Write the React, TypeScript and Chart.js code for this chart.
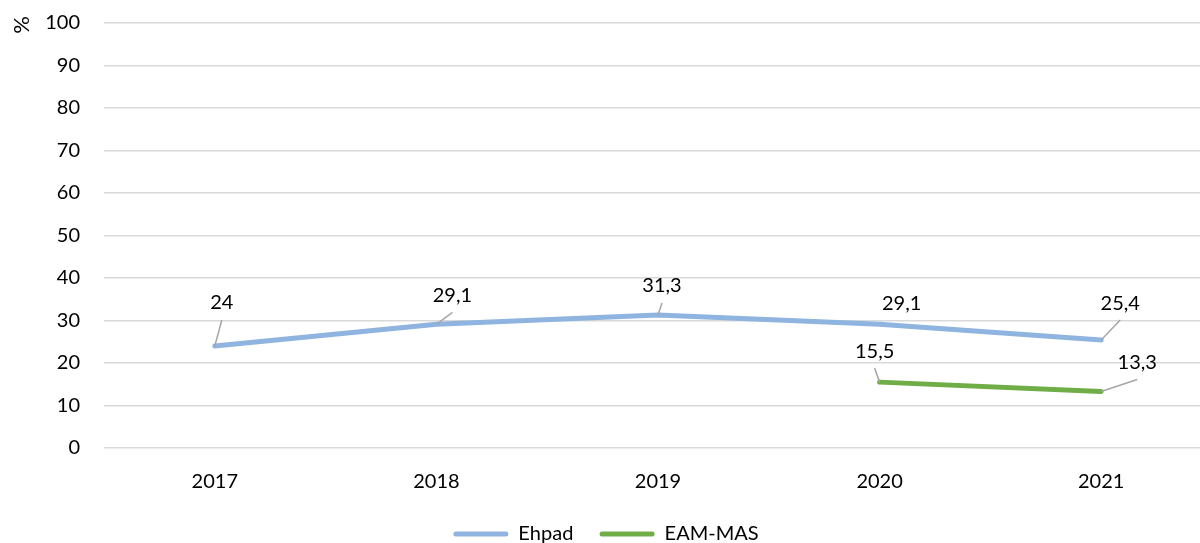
import React, { useEffect, useRef } from "react";
import { Chart, registerables } from "chart.js";

Chart.register(...registerables);

const years = ["2017", "2018", "2019", "2020", "2021"];
const ehpad = [24, 29.1, 31.3, 29.1, 25.4];
const eamMas = [null, null, null, 15.5, 13.3];
const seriesNames = ["Ehpad", "EAM-MAS"];
const yTicks = [0, 10, 20, 30, 40, 50, 60, 70, 80, 90, 100];
const yUnit = "%";

// label placement (offsets from the point, in px) and whether a leader line is drawn
const labelOffsets = [
  [[7, -43, true], [16, -29, true], [4, -29, true], [22, -21, false], [19, -37, true]],
  [null, null, null, [-5, -31, true], [36, -29, true]],
];

const FONT = "Lato, 'Open Sans', sans-serif";
const FS = 20;
const BLUE = "rgb(143,180,224)";
const GREEN = "rgb(112,173,71)";

const fmt = (v: number) => String(v).replace(".", ",");

const dataLabelPlugin = {
  id: "dataLabelsCustom",
  afterDatasetsDraw(chart: any) {
    const ctx = chart.ctx;
    ctx.save();
    chart.data.datasets.forEach((ds: any, di: number) => {
      const meta = chart.getDatasetMeta(di);
      meta.data.forEach((pt: any, i: number) => {
        const v = ds.data[i];
        const off = labelOffsets[di][i];
        if (v == null || !off) return;
        const [dx, dy, leader] = off as [number, number, boolean];
        const lx = pt.x + dx;
        const ly = pt.y + dy;
        if (leader) {
          ctx.strokeStyle = "#A6A6A6";
          ctx.lineWidth = 1.5;
          ctx.beginPath();
          ctx.moveTo(pt.x, pt.y);
          ctx.lineTo(lx, ly + 17);
          ctx.stroke();
        }
        ctx.fillStyle = "#000";
        ctx.font = `${FS}px ${FONT}`;
        ctx.textAlign = "center";
        ctx.textBaseline = "middle";
        ctx.fillText(fmt(v), lx, ly);
      });
    });
    // y unit, rotated
    const ya = chart.scales.y;
    ctx.translate(22, ya.top + 2);
    ctx.rotate(-Math.PI / 2);
    ctx.fillStyle = "#000";
    ctx.font = `22px ${FONT}`;
    ctx.textAlign = "center";
    ctx.textBaseline = "middle";
    ctx.fillText(yUnit, 0, 0);
    ctx.restore();
  },
};

export default function App() {
  const ref = useRef<HTMLCanvasElement>(null);
  useEffect(() => {
    const chart = new Chart(ref.current as HTMLCanvasElement, {
      type: "line",
      data: {
        labels: years,
        datasets: [
          {
            label: seriesNames[0],
            data: ehpad,
            borderColor: BLUE,
            backgroundColor: BLUE,
            borderWidth: 5,
            pointRadius: 0,
            borderCapStyle: "round",
            borderJoinStyle: "round",
          },
          {
            label: seriesNames[1],
            data: eamMas,
            borderColor: GREEN,
            backgroundColor: GREEN,
            borderWidth: 5,
            pointRadius: 0,
            borderCapStyle: "round",
            borderJoinStyle: "round",
          },
        ],
      },
      options: {
        responsive: false,
        animation: false,
        layout: { padding: { top: 23, bottom: 2, right: 0, left: 0 } },
        plugins: {
          tooltip: { enabled: false },
          legend: {
            position: "bottom",
            labels: {
              boxWidth: 55,
              boxHeight: 5,
              padding: 16,
              useBorderRadius: true,
              borderRadius: 2.5,
              color: "#000",
              font: { family: FONT, size: FS },
              generateLabels: (chart: any) =>
                chart.data.datasets.map((ds: any, i: number) => ({
                  text: i === 0 ? ds.label + "  " : ds.label,
                  fillStyle: ds.borderColor,
                  strokeStyle: ds.borderColor,
                  lineWidth: 0,
                  datasetIndex: i,
                  fontColor: "#000",
                  borderRadius: 2.5,
                })),
            },
          },
        },
        scales: {
          x: {
            offset: true,
            grid: { display: false },
            border: { display: false },
            ticks: { color: "#000", font: { family: FONT, size: FS }, padding: 14 },
          },
          y: {
            min: 0,
            max: 100,
            afterBuildTicks: (s: any) => {
              s.ticks = yTicks.map((v) => ({ value: v }));
            },
            afterFit: (s: any) => {
              s.width = 104;
              s.paddingTop = 0;
              s.paddingBottom = 0;
            },
            grid: { color: "#D9D9D9", lineWidth: 1.5, drawTicks: false },
            border: { display: false },
            ticks: { color: "#000", font: { family: FONT, size: FS }, padding: 24 },
          },
        },
      },
      plugins: [dataLabelPlugin],
    });
    return () => chart.destroy();
  }, []);
  return (
    <div
      style={{
        position: "absolute",
        left: 0,
        top: 0,
        width: 1200,
        height: 543,
        overflow: "hidden",
        background: "#fff",
      }}
    >
      <canvas ref={ref} width={1212} height={556} />
    </div>
  );
}
